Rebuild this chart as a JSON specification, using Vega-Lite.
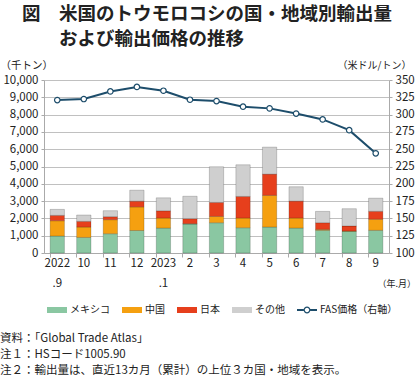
{
  "$schema": "https://vega.github.io/schema/vega-lite/v6.json",
  "padding": {"left": 0, "top": 4, "right": 0, "bottom": 0},
  "background": "white",
  "config": {
    "font": "Noto Sans CJK JP",
    "view": {"stroke": null},
    "concat": {"spacing": 0}
  },
  "title": {
    "text": ["図　米国のトウモロコシの国・地域別輸出量", "\u200b　　および輸出価格の推移"],
    "anchor": "start",
    "frame": "bounds",
    "fontSize": 18.5,
    "fontWeight": "bold",
    "color": "#222",
    "lineHeight": 25,
    "dx": 22,
    "offset": 12
  },
  "datasets": {
    "vol": [
      {"m": "2022.9", "cat": "メキシコ", "v": 980}, {"m": "2022.9", "cat": "中国", "v": 885}, {"m": "2022.9", "cat": "日本", "v": 310}, {"m": "2022.9", "cat": "その他", "v": 345},
      {"m": "10", "cat": "メキシコ", "v": 900}, {"m": "10", "cat": "中国", "v": 600}, {"m": "10", "cat": "日本", "v": 330}, {"m": "10", "cat": "その他", "v": 365},
      {"m": "11", "cat": "メキシコ", "v": 1115}, {"m": "11", "cat": "中国", "v": 810}, {"m": "11", "cat": "日本", "v": 175}, {"m": "11", "cat": "その他", "v": 345},
      {"m": "12", "cat": "メキシコ", "v": 1300}, {"m": "12", "cat": "中国", "v": 1365}, {"m": "12", "cat": "日本", "v": 330}, {"m": "12", "cat": "その他", "v": 635},
      {"m": "2023.1", "cat": "メキシコ", "v": 1440}, {"m": "2023.1", "cat": "中国", "v": 580}, {"m": "2023.1", "cat": "日本", "v": 420}, {"m": "2023.1", "cat": "その他", "v": 750},
      {"m": "2", "cat": "メキシコ", "v": 1680}, {"m": "2", "cat": "中国", "v": 15}, {"m": "2", "cat": "日本", "v": 290}, {"m": "2", "cat": "その他", "v": 1295},
      {"m": "3", "cat": "メキシコ", "v": 1750}, {"m": "3", "cat": "中国", "v": 365}, {"m": "3", "cat": "日本", "v": 810}, {"m": "3", "cat": "その他", "v": 2060},
      {"m": "4", "cat": "メキシコ", "v": 1460}, {"m": "4", "cat": "中国", "v": 560}, {"m": "4", "cat": "日本", "v": 1250}, {"m": "4", "cat": "その他", "v": 1830},
      {"m": "5", "cat": "メキシコ", "v": 1500}, {"m": "5", "cat": "中国", "v": 1830}, {"m": "5", "cat": "日本", "v": 1230}, {"m": "5", "cat": "その他", "v": 1560},
      {"m": "6", "cat": "メキシコ", "v": 1440}, {"m": "6", "cat": "中国", "v": 580}, {"m": "6", "cat": "日本", "v": 980}, {"m": "6", "cat": "その他", "v": 830},
      {"m": "7", "cat": "メキシコ", "v": 1310}, {"m": "7", "cat": "中国", "v": 55}, {"m": "7", "cat": "日本", "v": 385}, {"m": "7", "cat": "その他", "v": 655},
      {"m": "8", "cat": "メキシコ", "v": 1250}, {"m": "8", "cat": "中国", "v": 20}, {"m": "8", "cat": "日本", "v": 290}, {"m": "8", "cat": "その他", "v": 1000},
      {"m": "9", "cat": "メキシコ", "v": 1310}, {"m": "9", "cat": "中国", "v": 640}, {"m": "9", "cat": "日本", "v": 460}, {"m": "9", "cat": "その他", "v": 760}
    ],
    "price": [
      {"m": "2022.9", "p": 321}, {"m": "10", "p": 322.5}, {"m": "11", "p": 333.5}, {"m": "12", "p": 340},
      {"m": "2023.1", "p": 334.5}, {"m": "2", "p": 321.5}, {"m": "3", "p": 319.5}, {"m": "4", "p": 311.5},
      {"m": "5", "p": 309}, {"m": "6", "p": 301.5}, {"m": "7", "p": 293}, {"m": "8", "p": 277.5}, {"m": "9", "p": 244}
    ]
  },
  "vconcat": [
    {
      "width": 345,
      "height": 173,
      "title": {
        "text": ["資料：「Global Trade Atlas」", "注１：HSコード1005.90", "注２：輸出量は、直近13カ月（累計）の上位３カ国・地域を表示。"],
        "orient": "bottom",
        "anchor": "start",
        "frame": "bounds",
        "fontSize": 11.5,
        "fontWeight": "normal",
        "color": "#222",
        "lineHeight": 16,
        "offset": 44,
        "dx": 0
      },
      "layer": [
        {
          "data": {"name": "vol"},
          "transform": [
            {"calculate": "indexof(['メキシコ', '中国', '日本', 'その他'], datum.cat)", "as": "k"}
          ],
          "mark": {"type": "bar", "stroke": "#000", "strokeOpacity": 0.18, "strokeWidth": 1},
          "encoding": {
            "x": {
              "field": "m", "type": "nominal", "sort": null,
              "scale": {"paddingInner": 0.46, "paddingOuter": 0.23},
              "axis": {
                "title": "（年.月）",
                "titleFontSize": 9, "titleFontWeight": "normal", "titleColor": "#222",
                "titleAnchor": "start", "titleAlign": "left", "titleBaseline": "middle",
                "titleX": 333, "titleY": 30,
                "labelAngle": 0, "labelFontSize": 11.5, "labelColor": "#222",
                "labelLineHeight": 20, "labelPadding": 0,
                "labelExpr": "datum.label == '2022.9' ? ['2022', '.9'] : datum.label == '2023.1' ? ['2023', '.1'] : datum.label",
                "domainColor": "#aaa", "tickColor": "#aaa", "tickSize": 4, "bandPosition": 0
              }
            },
            "y": {
              "aggregate": "sum", "field": "v", "type": "quantitative", "stack": "zero",
              "scale": {"domain": [0, 10000], "nice": false},
              "axis": {
                "title": "（千トン）",
                "titleFontSize": 10.5, "titleFontWeight": "normal", "titleColor": "#222",
                "titleAngle": 0, "titleAlign": "left", "titleBaseline": "middle",
                "titleX": -44, "titleY": -15,
                "values": [0, 1000, 2000, 3000, 4000, 5000, 6000, 7000, 8000, 9000, 10000],
                "format": ",d",
                "labelFontSize": 11.5, "labelColor": "#222", "labelPadding": 3,
                "gridColor": "#c0c0c0", "gridWidth": 1,
                "domainColor": "#aaa", "tickColor": "#aaa", "tickSize": 3
              }
            },
            "order": {"field": "k", "type": "quantitative", "sort": "ascending"},
            "color": {
              "field": "cat", "type": "nominal",
              "scale": {
                "domain": ["メキシコ", "中国", "日本", "その他", "FAS価格（右軸）"],
                "range": ["#8ac7a2", "#f5a010", "#e63f1c", "#cfcfcf", "#1d4d6b"]
              },
              "legend": {
                "title": null,
                "orient": "none",
                "legendX": 3,
                "legendY": 220,
                "direction": "horizontal",
                "columns": 5,
                "columnPadding": 12,
                "labelFontSize": 10,
                "labelColor": "#222",
                "labelOffset": 3,
                "symbolSize": 400,
                "symbolStrokeWidth": 0,
                "symbolType": {"expr": "datum.value === 'FAS価格（右軸）' ? 'M-1,-0.09H-0.33V0.09H-1Z M0.33,-0.09H1V0.09H0.33Z M0.34,0A0.34,0.34 0 1,0 -0.34,0A0.34,0.34 0 1,0 0.34,0Z M0.22,0A0.22,0.22 0 1,1 -0.22,0A0.22,0.22 0 1,1 0.22,0Z' : 'M-1,-0.3H1V0.3H-1Z'"}
              }
            }
          }
        },
        {
          "data": {"name": "price"},
          "mark": {"type": "line", "strokeWidth": 2, "color": "#1d4d6b", "point": {"filled": true, "fill": "white", "stroke": "#1d4d6b", "strokeWidth": 1.2, "size": 30}},
          "encoding": {
            "x": {"field": "m", "type": "nominal", "sort": null},
            "y": {
              "field": "p", "type": "quantitative",
              "scale": {"domain": [100, 350], "nice": false},
              "axis": {
                "orient": "right",
                "title": "（米ドル/トン）",
                "titleFontSize": 10, "titleFontWeight": "normal", "titleColor": "#222",
                "titleAngle": 0, "titleAlign": "right", "titleBaseline": "middle",
                "titleX": 22, "titleY": -15,
                "values": [100, 125, 150, 175, 200, 225, 250, 275, 300, 325, 350],
                "grid": false,
                "labelFontSize": 11.5, "labelColor": "#222", "labelPadding": 3,
                "domainColor": "#aaa", "tickColor": "#aaa", "tickSize": 3
              }
            },
            "color": {"datum": "FAS価格（右軸）", "legend": null}
          }
        }
      ],
      "resolve": {"scale": {"y": "independent"}}
    }
  ]
}
